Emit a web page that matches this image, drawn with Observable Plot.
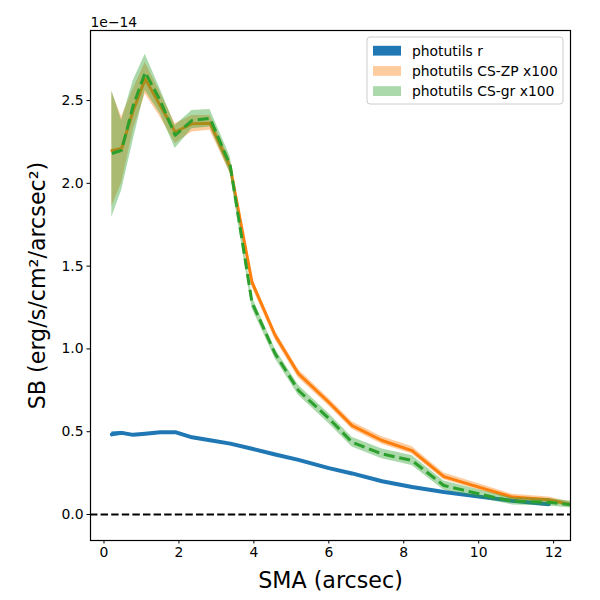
<!DOCTYPE html>
<html>
<head>
<meta charset="utf-8">
<script src="https://cdn.jsdelivr.net/npm/d3@7"></script>
<script src="https://cdn.jsdelivr.net/npm/@observablehq/plot@0.6"></script>
<style>
  body { margin: 0; background: white; }
  #chart { width: 600px; height: 600px; }
</style>
</head>
<body>
<div id="chart"></div>
<script>
// SMA (arcsec)
const sma = [0.21, 0.47, 0.78, 1.10, 1.50, 1.90, 2.35, 2.83, 3.37, 3.95, 4.57, 5.19, 6.00, 6.62, 7.42, 8.22, 9.07, 10.0, 10.9, 11.87, 12.45];

// SB values in units of 1e-14 erg/s/cm^2/arcsec^2
const blueSB   = [0.484, 0.493, 0.481, 0.488, 0.497, 0.497, 0.466, 0.448, 0.428, 0.397, 0.362, 0.330, 0.280, 0.248, 0.201, 0.166, 0.136, 0.108, 0.083, 0.062];
const blueErr  = [0.015, 0.008, 0.004, 0.004, 0.004, 0.004, 0.004, 0.004, 0.004, 0.004, 0.004, 0.004, 0.004, 0.004, 0.004, 0.004, 0.004, 0.004, 0.004, 0.004];

const zpSB  = [2.198, 2.21, 2.44, 2.63, 2.47, 2.31, 2.36, 2.363, 2.097, 1.403, 1.081, 0.85, 0.678, 0.537, 0.447, 0.386, 0.229, 0.165, 0.105, 0.089, 0.060];
const zpLo  = [1.86, 2.00, 2.32, 2.54, 2.40, 2.24, 2.31, 2.32, 2.06, 1.375, 1.055, 0.825, 0.655, 0.515, 0.425, 0.365, 0.21, 0.148, 0.088, 0.072, 0.045];
const zpHi  = [2.55, 2.40, 2.57, 2.73, 2.55, 2.36, 2.41, 2.41, 2.14, 1.43, 1.107, 0.875, 0.70, 0.56, 0.47, 0.41, 0.25, 0.185, 0.122, 0.106, 0.076];

const grSB  = [2.18, 2.20, 2.47, 2.67, 2.50, 2.29, 2.38, 2.393, 2.107, 1.28, 0.97, 0.749, 0.58, 0.437, 0.366, 0.326, 0.175, 0.125, 0.080, 0.074, 0.060];
const grLo  = [1.795, 1.956, 2.26, 2.56, 2.42, 2.21, 2.33, 2.34, 2.06, 1.245, 0.94, 0.72, 0.55, 0.407, 0.336, 0.296, 0.148, 0.10, 0.058, 0.052, 0.04];
const grHi  = [2.56, 2.38, 2.62, 2.78, 2.57, 2.35, 2.44, 2.446, 2.16, 1.315, 1.00, 0.78, 0.61, 0.467, 0.396, 0.356, 0.202, 0.15, 0.102, 0.096, 0.08];

const xTicks = [0, 2, 4, 6, 8, 10, 12];
const yTicks = [0.0, 0.5, 1.0, 1.5, 2.0, 2.5];
const legendLabels = ["photutils r", "photutils CS-ZP x100", "photutils CS-gr x100"];
const colors = ["#1f77b4", "#ff7f0e", "#2ca02c"];
const legendOpacity = [1, 0.4, 0.4];

const blueRows = blueSB.map((v, i) => ({x: sma[i], y: v, lo: v - blueErr[i], hi: v + blueErr[i]}));
const zpRows = sma.map((x, i) => ({x, y: zpSB[i], lo: zpLo[i], hi: zpHi[i]}));
const grRows = sma.map((x, i) => ({x, y: grSB[i], lo: grLo[i], hi: grHi[i]}));

const font = "DejaVu Sans, sans-serif";

const plot = Plot.plot({
  width: 600,
  height: 600,
  marginLeft: 90,
  marginRight: 30,
  marginTop: 30,
  marginBottom: 60,
  style: {fontFamily: font, fontSize: "13.9px", color: "black", background: "white"},
  x: {domain: [-0.36, 12.45]},
  y: {domain: [-0.157, 2.923]},
  marks: [
    Plot.areaY(blueRows, {x: "x", y1: "lo", y2: "hi", fill: colors[0], clip: true}),
    Plot.line(blueRows, {x: "x", y: "y", stroke: colors[0], strokeWidth: 4, clip: true}),
    Plot.areaY(zpRows, {x: "x", y1: "lo", y2: "hi", fill: colors[1], fillOpacity: 0.4, clip: true}),
    Plot.line(zpRows, {x: "x", y: "y", stroke: colors[1], strokeWidth: 3, clip: true}),
    Plot.areaY(grRows, {x: "x", y1: "lo", y2: "hi", fill: colors[2], fillOpacity: 0.4, clip: true}),
    Plot.line(grRows, {x: "x", y: "y", stroke: colors[2], strokeWidth: 3, strokeDasharray: "11,4.8", strokeLinecap: "butt", clip: true}),
    Plot.ruleY([0], {stroke: "black", strokeWidth: 2, strokeDasharray: "7.4,3.2", clip: true}),
    Plot.frame({stroke: "black", strokeWidth: 1.2}),
    Plot.axisX({ticks: xTicks, tickSize: 3.5, tickPadding: 3.5, tickFormat: d3.format("d"), label: null, fontSize: 13.9}),
    Plot.axisY({ticks: yTicks, tickSize: 3.5, tickPadding: 3.5, tickFormat: d3.format(".1f"), label: null, fontSize: 13.9}),
    Plot.text(["SMA (arcsec)"], {frameAnchor: "bottom", dy: 40, fontSize: 22.2, textAnchor: "middle", lineAnchor: "middle"}),
    Plot.text(["SB (erg/s/cm²/arcsec²)"], {frameAnchor: "left", dx: -53, rotate: -90, fontSize: 22.2, textAnchor: "middle", lineAnchor: "middle"}),
    Plot.text(["1e\u221214"], {frameAnchor: "top-left", dy: -4, textAnchor: "start", lineAnchor: "bottom", fontSize: 13.9})
  ]
});

// Legend inside the axes (upper right)
const svg = d3.select(plot);
const lg = svg.append("g").attr("font-family", font).attr("font-size", 13.9).attr("text-anchor", "start");
lg.append("rect")
  .attr("x", 367).attr("y", 37).attr("width", 196).attr("height", 67)
  .attr("rx", 3).attr("fill", "white").attr("fill-opacity", 0.8)
  .attr("stroke", "#cccccc").attr("stroke-width", 1);
legendLabels.forEach((label, i) => {
  const cy = 50.7 + i * 20.2;
  lg.append("rect")
    .attr("x", 373).attr("y", cy - 4.9).attr("width", 28).attr("height", 9.8)
    .attr("fill", colors[i]).attr("fill-opacity", legendOpacity[i]);
  lg.append("text")
    .attr("x", 412).attr("y", cy).attr("dy", "0.35em")
    .attr("text-anchor", "start")
    .attr("fill", "black").text(label);
});

document.getElementById("chart").appendChild(plot);
</script>
</body>
</html>
